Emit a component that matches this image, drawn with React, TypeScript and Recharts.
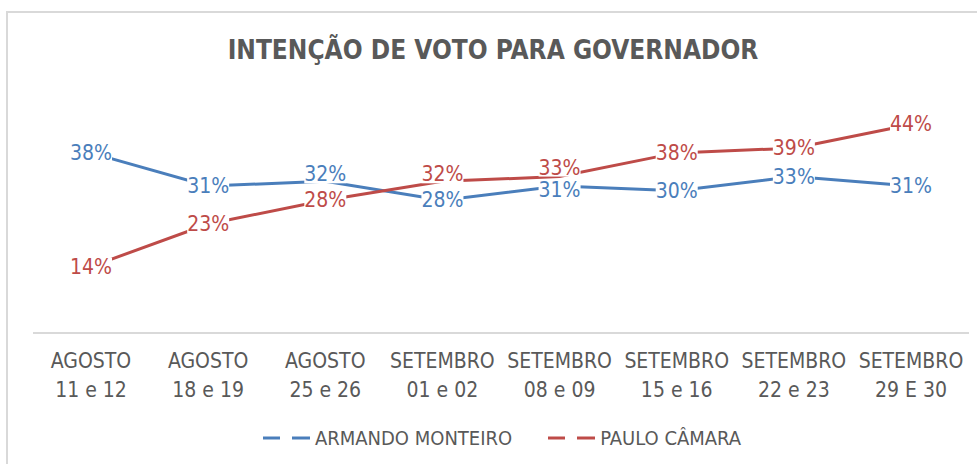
import { LabelList, Legend, Line, LineChart, XAxis, YAxis } from "recharts"

const months = ["AGOSTO", "AGOSTO", "AGOSTO", "SETEMBRO", "SETEMBRO", "SETEMBRO", "SETEMBRO", "SETEMBRO"]
const days = ["11 e 12", "18 e 19", "25 e 26", "01 e 02", "08 e 09", "15 e 16", "22 e 23", "29 E 30"]
const armando = [38, 31, 32, 28, 31, 30, 33, 31]
const paulo = [14, 23, 28, 32, 33, 38, 39, 44]

const data = months.map((m, i) => ({
  name: `${m} ${days[i]}`,
  armando: armando[i],
  paulo: paulo[i],
}))

const FONT = "'Liberation Sans Narrow', 'DejaVu Sans Condensed', Roboto, sans-serif"
const BLUE = "#4a7ebb"
const RED = "#be4b48"
const GREY = "#595959"

function CategoryTick(props: any) {
  const { x, y, index } = props
  return (
    <g>
      <text x={x} y={y + 27} textAnchor="middle" fill={GREY} fontSize={21} fontFamily={FONT}>
        {months[index]}
      </text>
      <text x={x} y={y + 56} textAnchor="middle" fill={GREY} fontSize={21} fontFamily={FONT}>
        {days[index]}
      </text>
    </g>
  )
}

// nudge labels apart when the two series sit close together
const makeLabel = (color: string, mine: number[], other: number[]) => (props: any) => {
  const { x, y, value, index } = props
  const diff = mine[index] - other[index]
  let shift = 0
  if (diff > 0 && diff <= 4) shift = diff <= 2 ? -9 : -7
  if (diff < 0 && diff >= -2) shift = 4
  const cy = y + shift
  return (
    <g>
      <rect x={x - 21} y={cy - 9} width={42} height={18} fill="#fff" />
      <text x={x} y={cy} dy={7} textAnchor="middle" fill={color} fontSize={21} fontFamily={FONT}>
        {`${value}%`}
      </text>
    </g>
  )
}

function LegendContent() {
  const items = [
    { label: "ARMANDO MONTEIRO", color: BLUE },
    { label: "PAULO CÂMARA", color: RED },
  ]
  return (
    <div style={{ display: "flex", justifyContent: "center", gap: 36, paddingLeft: 2 }}>
      {items.map((it) => (
        <div key={it.label} style={{ display: "flex", alignItems: "center" }}>
          <svg width={50} height={10}>
            <line x1={0} y1={5} x2={17} y2={5} stroke={it.color} strokeWidth={3} />
            <line x1={29} y1={5} x2={47} y2={5} stroke={it.color} strokeWidth={3} />
          </svg>
          <span style={{ fontFamily: FONT, fontSize: 20, color: GREY, marginLeft: 2 }}>{it.label}</span>
        </div>
      ))}
    </div>
  )
}

export default function App() {
  return (
    <div style={{ position: "absolute", left: 0, top: 0, width: 977, height: 464, overflow: "hidden", background: "#fff" }}>
      <div
        style={{
          position: "absolute",
          left: 6,
          top: 11,
          width: 1000,
          height: 500,
          border: "2px solid #d9d9d9",
        }}
      />
      <div
        style={{
          position: "absolute",
          left: 0,
          top: 35,
          width: 986,
          textAlign: "center",
          fontFamily: FONT,
          fontWeight: "bold",
          fontSize: 26,
          color: GREY,
        }}
      >
        INTENÇÃO DE VOTO PARA GOVERNADOR
      </div>
      <LineChart
        width={977}
        height={464}
        data={data}
        margin={{ top: 96, right: 8, left: 33, bottom: 20 }}
        style={{ position: "absolute", left: 0, top: 0 }}
      >
        <XAxis
          dataKey="name"
          height={81}
          interval={0}
          padding={{ left: 58, right: 58 }}
          tickLine={false}
          axisLine={{ stroke: "#d9d9d9", strokeWidth: 2 }}
          tick={<CategoryTick />}
        />
        <YAxis hide domain={[0, 50]} />
        <Legend
          verticalAlign="bottom"
          height={30}
          wrapperStyle={{ bottom: 8 }}
          content={<LegendContent />}
        />
        <Line
          type="linear"
          dataKey="armando"
          name="ARMANDO MONTEIRO"
          stroke={BLUE}
          strokeWidth={3}
          dot={false}
          isAnimationActive={false}
        >
          <LabelList dataKey="armando" content={makeLabel(BLUE, armando, paulo)} />
        </Line>
        <Line
          type="linear"
          dataKey="paulo"
          name="PAULO CÂMARA"
          stroke={RED}
          strokeWidth={3}
          dot={false}
          isAnimationActive={false}
        >
          <LabelList dataKey="paulo" content={makeLabel(RED, paulo, armando)} />
        </Line>
      </LineChart>
    </div>
  )
}
